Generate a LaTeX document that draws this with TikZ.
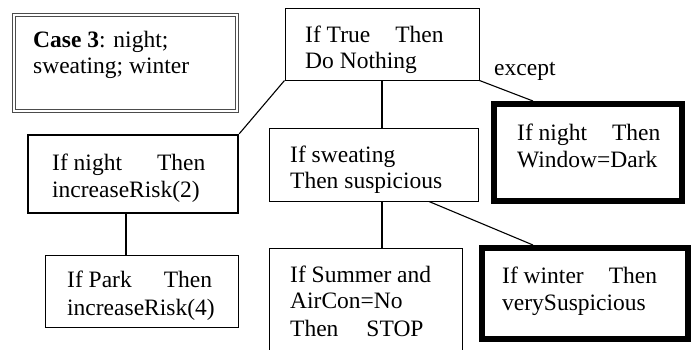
\documentclass[tikz,border=0pt]{standalone}
\usepackage{fontspec}
\setmainfont{Liberation Serif}
\begin{document}
\begin{tikzpicture}[x=1pt,y=-1pt,
  txt/.style={font=\fontsize{23.5}{27}\selectfont, inner sep=0pt, anchor=base west},
  box/.style={draw, inner sep=0pt, line width=1pt},
  thinbox/.style={box},
  medbox/.style={box, line width=2.5pt},
  heavybox/.style={box, line width=6pt},
  casebox/.style={box, draw=black!70, double=white, double distance=1.6pt, line width=0.8pt},
  link/.style={line width=1.1pt}]
\clip (0,0) rectangle (694,349);
\useasboundingbox (0,0) rectangle (694,349);
% boxes
\node[casebox, minimum width=223pt, minimum height=96pt] (case) at (125.5,63) {};
\node[thinbox, minimum width=194pt, minimum height=72pt] (root) at (382,44) {};
\node[medbox, minimum width=210pt, minimum height=78pt] (night) at (133,174) {};
\node[thinbox, minimum width=193pt, minimum height=72pt] (park) at (141.5,291) {};
\node[thinbox, minimum width=209pt, minimum height=73pt] (sweat) at (373.5,164.5) {};
\node[thinbox, minimum width=193pt, minimum height=122pt] (summer) at (365.5,309) {};
\node[heavybox, minimum width=188pt, minimum height=97pt] (dark) at (588,152.5) {};
\node[heavybox, minimum width=206pt, minimum height=91pt] (winter) at (585,293.5) {};
% connectors
\draw[link] (root.south west) -- (night.north east);
\draw[link] (root.south) -- (root.south |- sweat.north);
\draw[link] (root.south east) -- ([xshift=-55pt]dark.north);
\draw[link] ([xshift=-7pt]night.south) -- ([xshift=-7pt]night.south |- park.north);
\draw[link] ([xshift=8.5pt]sweat.south) -- ([xshift=8.5pt]sweat.south |- summer.north);
\draw[link] ([xshift=55.5pt]sweat.south) -- ([xshift=-52pt]winter.north);
% texts
\node[txt] (c1) at (33,47) {\textbf{Case 3}: night;};
\node[txt] (c2) at (33,73) {sweating; winter};
\node[txt] (r1) at (305,42) {If True\hspace{25pt}Then};
\node[txt] (r2) at (305,68) {Do Nothing};
\node[txt] (ex) at (494,75) {except};
\node[txt] (d1) at (517,140) {If night\hspace{25pt}Then};
\node[txt] (d2) at (517,167) {Window=Dark};
\node[txt] (n1) at (52,170) {If night\hspace{35pt}Then};
\node[txt] (n2) at (52,197) {increaseRisk(2)};
\node[txt] (p1) at (67,287) {If Park\hspace{32pt}Then};
\node[txt] (p2) at (67,315) {increaseRisk(4)};
\node[txt] (s1) at (290,162) {If sweating};
\node[txt] (s2) at (290,188) {Then suspicious};
\node[txt] (m1) at (290,282) {If Summer and};
\node[txt] (m2) at (290,308) {AirCon=No};
\node[txt] (m3) at (290,336) {Then\hspace{28pt}STOP};
\node[txt] (w1) at (502,283) {If winter\hspace{25pt}Then};
\node[txt] (w2) at (502,310) {verySuspicious};
\end{tikzpicture}
\end{document}
